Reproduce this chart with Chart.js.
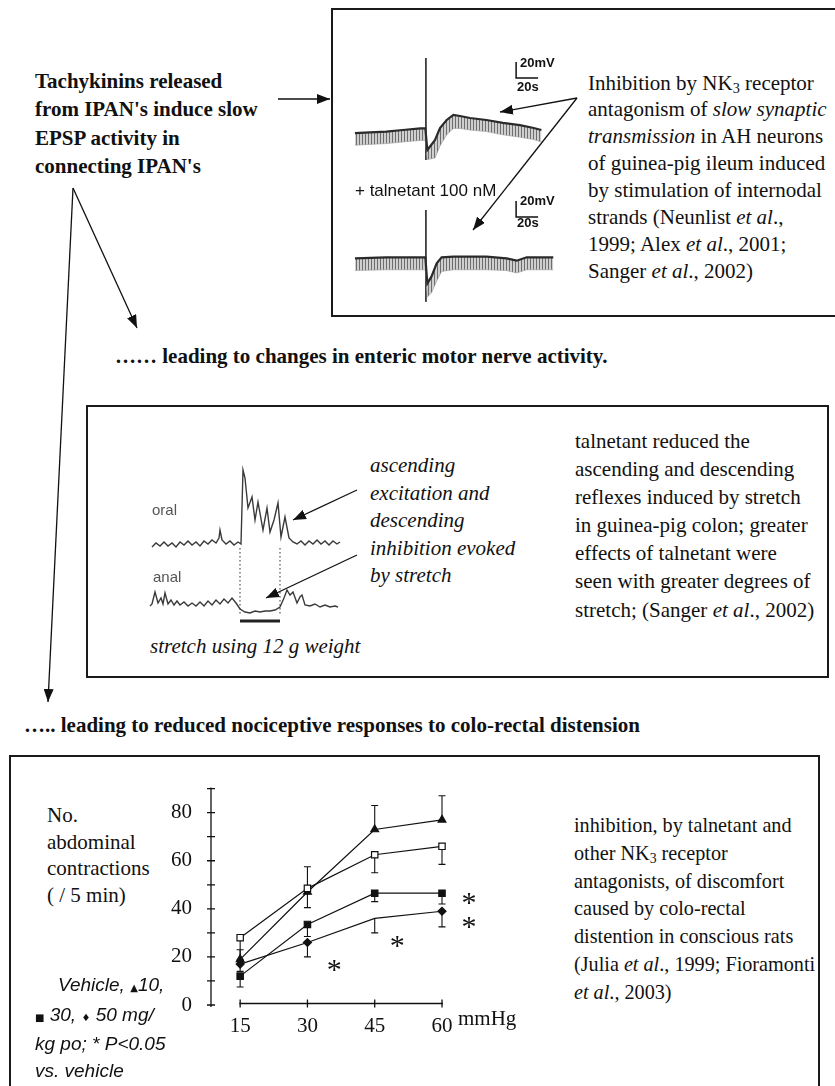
<!DOCTYPE html>
<html>
<head>
<meta charset="utf-8">
<title>NK3 receptor antagonism</title>
<script src="https://cdn.jsdelivr.net/npm/chart.js@4.4.1/dist/chart.umd.min.js"></script>
<style>
  html, body { margin: 0; padding: 0; background: #fff; }
  #page { position: relative; width: 835px; height: 1086px; overflow: hidden;
          font-family: "Liberation Serif", "Times New Roman", serif; font-size: 21px; color: #111; }
  .box { position: absolute; border: 2px solid #1a1a1a; box-sizing: border-box; }
  .txt { position: absolute; white-space: nowrap; }
  .bold { font-weight: bold; }
  .sans { font-family: "Liberation Sans", Arial, sans-serif; }
  .sym { font-style: normal; font-size: 10px; font-family: "DejaVu Sans", sans-serif; }
  sub { font-size: 0.68em; vertical-align: -0.2em; line-height: 0; }
  canvas { position: absolute; }
  svg { position: absolute; left: 0; top: 0; }
</style>
</head>
<body>
<div id="page">
  <div class="box" style="left:331px;top:8px;width:520px;height:309px"></div>
  <div class="box" style="left:86px;top:405px;width:743px;height:273px"></div>
  <div class="box" style="left:9px;top:755px;width:811px;height:400px"></div>

  <div class="txt bold" style="left:35px;top:67px;line-height:28.3px">Tachykinins released<br>from IPAN's induce slow<br>EPSP activity in<br>connecting IPAN's</div>

  <canvas id="traceA" width="210" height="120" style="left:350px;top:50px"></canvas>
  <canvas id="traceB" width="210" height="130" style="left:350px;top:180px"></canvas>
  <div class="txt sans bold" style="left:520px;top:56px;font-size:13px;line-height:14px">20mV</div>
  <div class="txt sans bold" style="left:517px;top:80px;font-size:13px;line-height:14px">20s</div>
  <div class="txt sans bold" style="left:520px;top:194px;font-size:13px;line-height:14px">20mV</div>
  <div class="txt sans bold" style="left:517px;top:216px;font-size:13px;line-height:14px">20s</div>
  <div class="txt sans" style="left:355px;top:181px;font-size:17px;line-height:20px">+ talnetant 100 nM</div>

  <div class="txt" style="left:588px;top:69.5px;line-height:26.9px">Inhibition by NK<sub>3</sub> receptor<br>antagonism of <i>slow synaptic</i><br><i>transmission</i> in AH neurons<br>of guinea-pig ileum induced<br>by stimulation of internodal<br>strands (Neunlist <i>et al</i>.,<br>1999; Alex <i>et al</i>., 2001;<br>Sanger <i>et al</i>., 2002)</div>

  <div class="txt bold" style="left:115px;top:342px;line-height:28px">&hellip;&hellip; leading to changes in enteric motor nerve activity.</div>

  <canvas id="reflex" width="210" height="170" style="left:140px;top:460px"></canvas>
  <div class="txt sans" style="left:152px;top:501px;font-size:15px;line-height:18px;color:#555">oral</div>
  <div class="txt sans" style="left:153px;top:568px;font-size:15px;line-height:18px;color:#555">anal</div>
  <div class="txt" style="left:370px;top:452px;line-height:27.5px;font-style:italic">ascending<br>excitation and<br>descending<br>inhibition evoked<br>by stretch</div>
  <div class="txt" style="left:150px;top:632px;line-height:28px;font-style:italic">stretch using 12 g weight</div>
  <div class="txt" style="left:575px;top:427px;line-height:28.1px">talnetant reduced the<br>ascending and descending<br>reflexes induced by stretch<br>in guinea-pig colon; greater<br>effects of talnetant were<br>seen with greater degrees of<br>stretch; (Sanger <i>et al</i>., 2002)</div>

  <div class="txt bold" style="left:24px;top:711px;line-height:28px">&hellip;.. leading to reduced nociceptive responses to colo-rectal distension</div>

  <canvas id="doseChart" width="380" height="290" style="left:150px;top:765px"></canvas>
  <div class="txt" style="left:47px;top:802px;line-height:26.7px">No.<br>abdominal<br>contractions<br>( / 5 min)</div>
  <div class="txt sans" style="left:35px;top:972px;font-size:19px;line-height:26.7px;font-style:italic"><span style="display:inline-block;width:23px"></span>Vehicle, <span class="sym">&#9650;</span>10,<br><span class="sym">&#9632;</span> 30, <span class="sym">&#9830;</span> 50 mg/<br>kg po; * P&lt;0.05<br>vs. vehicle</div>
  <div class="txt" style="left:574px;top:812px;line-height:27.8px;font-size:20.2px">inhibition, by talnetant and<br>other NK<sub>3</sub> receptor<br>antagonists, of discomfort<br>caused by colo-rectal<br>distention in conscious rats<br>(Julia <i>et al</i>., 1999; Fioramonti<br><i>et al</i>., 2003)</div>

  <svg width="835" height="1086">
    <defs>
      <marker id="head" markerWidth="13" markerHeight="10" refX="13" refY="5" orient="auto" markerUnits="userSpaceOnUse">
        <path d="M0,0 L13,5 L0,10 z" fill="#111"/>
      </marker>
    </defs>
    <g stroke="#111" stroke-width="1.3" fill="none">
      <line x1="278" y1="99" x2="330" y2="99" marker-end="url(#head)"/>
      <line x1="577" y1="98" x2="500" y2="112" marker-end="url(#head)"/>
      <line x1="577" y1="98" x2="473" y2="230" marker-end="url(#head)"/>
      <line x1="73" y1="188" x2="137" y2="328" marker-end="url(#head)"/>
      <line x1="73" y1="188" x2="48" y2="702" marker-end="url(#head)"/>
      <line x1="357" y1="490" x2="293" y2="520" marker-end="url(#head)"/>
      <line x1="357" y1="555" x2="266" y2="598" marker-end="url(#head)"/>
    </g>
  </svg>
</div>

<script>
// bottom panel: abdominal contractions per 5 min vs distension pressure (mmHg)
const pressures = [15, 30, 45, 60];
const vehicle = [28, 48.5, 62.5, 66];
const dose10 = [19, 47, 73, 77];
const dose30 = [12, 33.5, 46.5, 46.5];
const dose50 = [17, 26, 36, 39];
// error bars, drawn above the mean for 10 mg/kg, below for the others
const vehicleSem = [9, 8, 7.5, 7.5];
const dose10Sem = [4, 10.5, 10, 10];
const dose30Sem = [4.5, 5, 3.5, 4.5];
const dose50Sem = [3, 6, 6, 6.5];
const yTickLabels = [0, 20, 40, 60, 80];
// significance asterisks, in axis units
const starPressure = [36, 50, 66, 66];
const starCount = [16.5, 26.5, 44.5, 34.5];

// top panel: intracellular recordings (time s, membrane potential mV)
const traceATime = [4.5, 18, 33, 48, 64, 68.5, 70.3, 77.3, 81.8, 87.9, 94, 100, 109, 124, 139, 154.5, 167, 174];
const traceATop = [-64, -63, -62, -60, -58, -58, -85, -72.5, -57.5, -47.5, -41, -42.5, -45, -47.5, -51, -54, -57.5, -60];
const traceALow = [-79, -78, -77, -75, -73, -73, -97, -95, -80, -66, -58, -58, -60, -62, -66, -69, -72, -75];
const spikeATime = [69, 69];
const spikeAVolt = [30, -97.5];
const traceBTime = [4.5, 33, 64, 68.5, 70.3, 74, 78.8, 83.3, 94, 124, 142.4, 151.5, 160.6, 184.8];
const traceBTop = [-61.7, -60.4, -60.4, -60.4, -93, -84.6, -68, -60.4, -59.6, -59.6, -61.7, -64.6, -60.4, -60.4];
const traceBLow = [-77, -76, -76, -76, -110, -105, -90, -78, -76, -76, -77, -80, -76, -76];
const spikeBTime = [69, 69];
const spikeBVolt = [-1.25, -116];
const scaleBarTime = 20;  // s
const scaleBarVolt = 20;  // mV

// middle panel: oral and anal muscle activity (time, amplitude a.u.)
const oralTime = [12,16,20,24,28,32,36,40,44,48,52,56,60,64,68,72,76,79,80,82,86,90,94,98,101,103,105,108,112,115,118,123,127,130,134,138,141,145,149,153,157,161,165,169,173,177,181,185,189,193,197,200];
const oralAmp = [83,87,84,88,84,87,83,88,85,89,85,88,84,89,86,90,87,92,100,90,86,89,85,88,86,160,152,122,133,110,128,100,122,98,110,127,93,113,92,88,86,89,85,89,86,90,86,89,85,89,86,88];
const analTime = [10,12,15,18,21,23,25,28,31,34,37,40,44,48,52,56,60,64,68,72,76,80,84,88,92,96,100,105,110,115,120,125,130,135,140,144,147,150,153,157,160,162,165,170,175,180,185,190,195,198];
const analAmp = [24,26,38,27,32,26,37,26,30,25,29,25,28,24,27,24,28,24,29,25,30,26,31,27,32,27,21,18,17,19,18,19,19,20,23,32,40,35,38,27,33,35,25,24,26,23,25,23,24,23];
const stretchOn = 100;
const stretchOff = 140;

const black = '#111';

function xy(xs, ys) {
    return xs.map((v, i) => ({ x: v, y: ys[i] }));
}

function series(label, values, sem, dir, style, fill, radius) {
    return {
        label: label,
        data: xy(pressures, values),
        sem: sem,
        semDir: dir,
        borderColor: black,
        borderWidth: 1.2,
        pointStyle: style,
        pointRadius: radius,
        pointBackgroundColor: fill,
        pointBorderColor: black,
        pointBorderWidth: 1.2,
        tension: 0,
        fill: false,
        clip: false
    };
}

const axisPlugin = {
    id: 'axisPlugin',
    beforeDatasetsDraw(chart) {
        const { ctx, scales: { x, y } } = chart;
        const ax = chart.chartArea.left;
        const ay = y.getPixelForValue(0) - 1.5;
        ctx.save();
        ctx.strokeStyle = black;
        ctx.lineWidth = 1.3;
        ctx.beginPath();
        ctx.moveTo(ax, y.getPixelForValue(y.max) - 1);
        ctx.lineTo(ax, y.getPixelForValue(0) + 2);
        y.ticks.forEach(t => {
            const py = y.getPixelForValue(t.value);
            ctx.moveTo(ax - 4, py);
            ctx.lineTo(ax + 4, py);
        });
        ctx.moveTo(x.getPixelForValue(pressures[0]) - 1, ay);
        ctx.lineTo(x.getPixelForValue(pressures[pressures.length - 1]) + 1, ay);
        pressures.forEach(p => {
            const px = x.getPixelForValue(p);
            ctx.moveTo(px, ay - 4);
            ctx.lineTo(px, ay + 4);
        });
        ctx.stroke();

        // error bars
        ctx.lineWidth = 1.1;
        chart.data.datasets.forEach(ds => {
            ds.data.forEach((pt, i) => {
                const px = x.getPixelForValue(pt.x);
                const end = y.getPixelForValue(pt.y + ds.semDir * ds.sem[i]);
                ctx.beginPath();
                ctx.moveTo(px, y.getPixelForValue(pt.y));
                ctx.lineTo(px, end);
                ctx.moveTo(px - 3.5, end);
                ctx.lineTo(px + 3.5, end);
                ctx.stroke();
            });
        });
        ctx.restore();
    },
    afterDatasetsDraw(chart) {
        const { ctx, scales: { x, y } } = chart;
        ctx.save();
        ctx.fillStyle = black;
        ctx.font = '30px "Liberation Serif"';
        ctx.textAlign = 'center';
        ctx.textBaseline = 'middle';
        starPressure.forEach((p, i) => {
            ctx.fillText('*', x.getPixelForValue(p), y.getPixelForValue(starCount[i]) + 6);
        });
        ctx.font = '21px "Liberation Serif"';
        ctx.textAlign = 'left';
        ctx.fillText('mmHg', x.getPixelForValue(60) + 16, x.top + 14);
        ctx.restore();
    }
};

const tickFont = { family: 'Liberation Serif', size: 21 };

new Chart(document.getElementById('doseChart'), {
    type: 'line',
    data: {
        datasets: [
            series('Vehicle', vehicle, vehicleSem, -1, 'rect', '#fff', 4.5),
            series('10 mg/kg', dose10, dose10Sem, 1, 'triangle', black, 4.5),
            series('30 mg/kg', dose30, dose30Sem, -1, 'rect', black, 4.5),
            series('50 mg/kg', dose50, dose50Sem, -1, 'rectRot', black, [4, 4, 0, 4])
        ]
    },
    options: {
        responsive: false,
        animation: false,
        events: [],
        layout: { padding: { top: 14, right: 88, left: 0, bottom: 0 } },
        plugins: { legend: { display: false }, tooltip: { enabled: false } },
        scales: {
            x: {
                type: 'linear',
                min: 8.5,
                max: 60,
                grid: { display: false },
                border: { display: false },
                afterBuildTicks: s => { s.ticks = pressures.map(v => ({ value: v })); },
                afterFit: s => { s.height = 50; },
                ticks: { font: tickFont, color: black, padding: 1, maxRotation: 0, autoSkip: false }
            },
            y: {
                min: 0,
                max: 90,
                grid: { display: false },
                border: { display: false },
                afterFit: s => { s.width = 61; },
                ticks: {
                    stepSize: 10,
                    autoSkip: false,
                    padding: 11,
                    font: tickFont,
                    color: black,
                    callback: v => yTickLabels.includes(v) ? String(v) : ''
                }
            }
        }
    },
    plugins: [axisPlugin]
});

// hatched fill that imitates the fast synaptic events under the trace
function hatch(canvasId) {
    const tile = document.createElement('canvas');
    tile.width = 3;
    tile.height = 8;
    const g = tile.getContext('2d');
    g.fillStyle = '#cfcfcf';
    g.fillRect(0, 0, 3, 8);
    g.fillStyle = '#6d6d6d';
    g.fillRect(0, 0, 1, 8);
    return document.getElementById(canvasId).getContext('2d').createPattern(tile, 'repeat');
}

function traceChart(id, datasets, xMax, yMin, yMax) {
    return new Chart(document.getElementById(id), {
        type: 'line',
        data: { datasets: datasets },
        options: {
            responsive: false,
            animation: false,
            events: [],
            layout: { padding: 0 },
            plugins: { legend: { display: false }, tooltip: { enabled: false } },
            elements: { point: { radius: 0 }, line: { tension: 0 } },
            scales: {
                x: { type: 'linear', display: false, min: 0, max: xMax },
                y: { type: 'linear', display: false, min: yMin, max: yMax }
            }
        }
    });
}

function recording(time, top, low, spikeT, spikeV, bar, canvasId) {
    return [
        { data: xy(time, top), borderColor: '#2a2a2a', borderWidth: 2.2, fill: false },
        { data: xy(time, low), borderColor: '#9a9a9a', borderWidth: 0.6, fill: 0, backgroundColor: hatch(canvasId) },
        { data: xy(spikeT, spikeV), borderColor: '#333', borderWidth: 1, fill: false },
        {
            data: [
                { x: bar.t, y: bar.v + scaleBarVolt },
                { x: bar.t, y: bar.v },
                { x: bar.t + scaleBarTime, y: bar.v }
            ],
            borderColor: black, borderWidth: 1.5, fill: false
        }
    ];
}

traceChart('traceA', recording(traceATime, traceATop, traceALow, spikeATime, spikeAVolt, { t: 151, v: 5 }, 'traceA'),
    190.9, -110, 40);
traceChart('traceB', recording(traceBTime, traceBTop, traceBLow, spikeBTime, spikeBVolt, { t: 151, v: -10 }, 'traceB'),
    190.9, -126.25, 36.25);

const dotted = { borderColor: '#555', borderWidth: 1.2, borderDash: [1.5, 2.5], fill: false };
traceChart('reflex', [
    { data: xy(oralTime, oralAmp), borderColor: '#3a3a3a', borderWidth: 1.4, fill: false },
    { data: xy(analTime, analAmp), borderColor: '#3a3a3a', borderWidth: 1.4, fill: false },
    Object.assign({ data: [{ x: stretchOn, y: 82 }, { x: stretchOn, y: 15 }] }, dotted),
    Object.assign({ data: [{ x: stretchOff, y: 82 }, { x: stretchOff, y: 15 }] }, dotted),
    { data: [{ x: stretchOn, y: 9 }, { x: stretchOff, y: 9 }], borderColor: '#222', borderWidth: 3, fill: false }
], 210, 0, 170);
</script>
</body>
</html>
